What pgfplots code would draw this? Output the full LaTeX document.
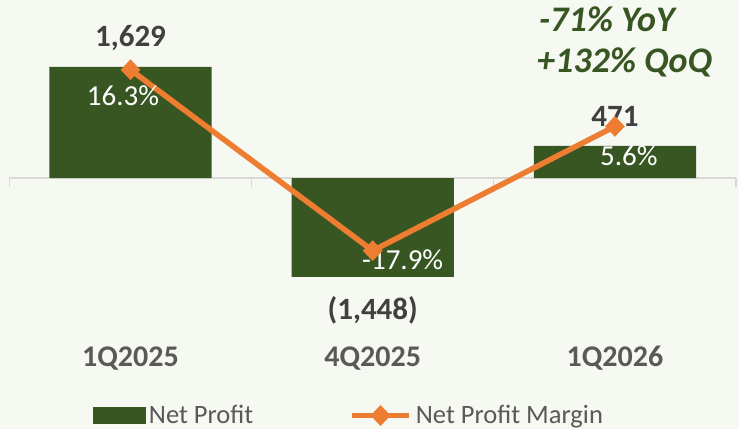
\documentclass[border=0pt]{standalone}
\usepackage{pgfplots}
\pgfplotsset{compat=1.18}
\usepackage{fontspec}
\setmainfont{Carlito}
\definecolor{bgc}{HTML}{F6F8F2}
\definecolor{barc}{HTML}{385622}
\definecolor{linec}{HTML}{ED7D31}
\definecolor{labc}{HTML}{404040}
\definecolor{catc}{HTML}{595959}
\definecolor{axc}{HTML}{D9D9D9}
\pgfplotsset{
  mylinelegend/.style={legend image code/.code={\draw[##1, mark repeat=2, mark phase=2] plot coordinates {(0pt,0pt) (28.5pt,0pt) (57pt,0pt)};}},
  mybarlegend/.style={legend image code/.code={\fill[barc] (0pt,-8pt) rectangle (52pt,8pt);}},
}
\begin{document}
\begin{tikzpicture}
\fill[bgc] (0,0) rectangle (739pt,429pt);
\path[use as bounding box] (0,0) rectangle (739pt,429pt);
\begin{axis}[
  at={(9.4pt,139pt)}, anchor=south west,
  scale only axis, width=726.6pt, height=270pt,
  xmin=-0.5, xmax=2.5, ymin=-1642, ymax=2317,
  axis line style={draw=none}, ytick=\empty,
  xtick={0,1,2}, xticklabels={1Q2025,4Q2025,1Q2026},
  major tick length=0pt,
  xticklabel style={anchor=base, yshift=-76pt, font=\bfseries\fontsize{30}{36}\selectfont, text=catc},
  clip=false,
]
\draw[axc, line width=1.3pt] (axis cs:-0.5,0) -- (axis cs:2.5,0);
\draw[axc, line width=1.3pt] (axis cs:-0.5,0) -- ++(0pt,-9pt);
\draw[axc, line width=1.3pt] (axis cs:0.5,0) -- ++(0pt,-9pt);
\draw[axc, line width=1.3pt] (axis cs:1.5,0) -- ++(0pt,-9pt);
\draw[axc, line width=1.3pt] (axis cs:2.5,0) -- ++(0pt,-9pt);
\addplot[ybar, bar width=0.67, fill=barc, draw=none] coordinates {(0,1629) (1,-1448) (2,471)};
\node[anchor=base, text=labc, font=\bfseries\fontsize{31}{36}\selectfont, yshift=20pt] at (axis cs:0,1629) {1,629};
\node[anchor=base, text=labc, font=\bfseries\fontsize{31}{36}\selectfont, yshift=-43pt] at (axis cs:1,-1448) {(1,448)};
\node[anchor=base, text=labc, font=\bfseries\fontsize{31}{36}\selectfont, yshift=19pt] at (axis cs:2,471) {471};
\end{axis}
\begin{axis}[
  at={(9.4pt,139pt)}, anchor=south west,
  scale only axis, width=726.6pt, height=270pt,
  xmin=-0.5, xmax=2.5, ymin=-25.33, ymax=25.71,
  hide x axis, hide y axis, clip=false,
  legend columns=2,
  legend cell align=left,
  legend style={at={(0.1144,-0.4648)}, anchor=west, draw=none, fill=none,
    inner sep=0pt, outer sep=0pt, column sep=4pt,
    font=\fontsize{26.5}{30}\selectfont, text=catc,
    nodes={inner sep=0pt},
    /tikz/every even column/.append style={column sep=96pt}},
]
\addlegendimage{mybarlegend}
\addlegendentry{Net Profit}
\addplot[linec, line width=5.5pt, mark=diamond*, mark size=10pt,
  mark options={xscale=1.27, line width=0.5pt, fill=linec}, mylinelegend]
  coordinates {(0,16.3) (1,-17.9) (2,5.6)};
\addlegendentry{Net Profit Margin}
\node[anchor=base, text=white, font=\fontsize{29}{34}\selectfont, xshift=-7.5pt, yshift=-36pt] at (axis cs:0,16.3) {16.3\%};
\node[anchor=base, text=white, font=\fontsize{29}{34}\selectfont, xshift=30pt, yshift=-19pt] at (axis cs:1,-17.9) {-17.9\%};
\node[anchor=base, text=white, font=\fontsize{29}{34}\selectfont, xshift=14pt, yshift=-39pt] at (axis cs:2,5.6) {5.6\%};
\end{axis}
\node[anchor=base, font=\bfseries\itshape\fontsize{36}{40}\selectfont, text=barc] at (607pt,397pt) {-71\% YoY};
\node[anchor=base, font=\bfseries\itshape\fontsize{36}{40}\selectfont, text=barc] at (624.5pt,356pt) {+132\% QoQ};
\end{tikzpicture}
\end{document}
